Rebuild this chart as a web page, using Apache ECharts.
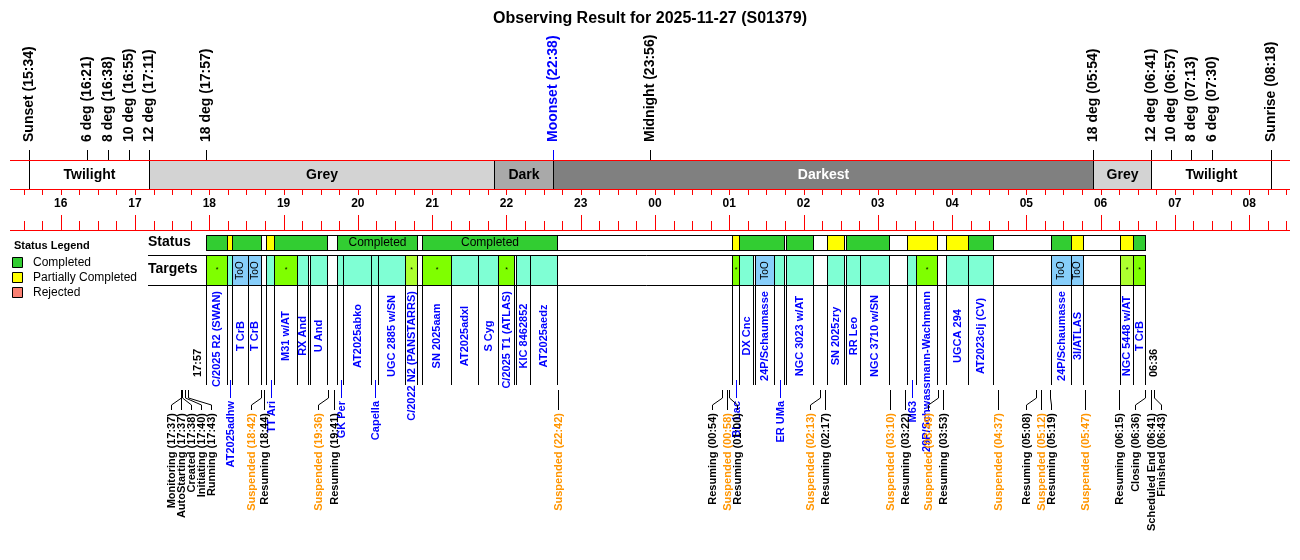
<!DOCTYPE html>
<html><head><meta charset="utf-8">
<script src="https://cdn.jsdelivr.net/npm/echarts@6/dist/echarts.min.js"></script>
<style>html,body{margin:0;padding:0;background:#fff}#c{width:1300px;height:560px}</style>
</head><body><div id="c"></div>
<script>
const FONT = '"Liberation Sans", Arial, Helvetica, sans-serif';

// ---------------- data ----------------
const title = 'Observing Result for 2025-11-27 (S01379)';
const axisStart = '15:19', axisEnd = '08:33';
const tickLabels = ['16','17','18','19','20','21','22','23','00','01','02','03','04','05','06','07','08'];

const nightNames = ['Sunset','6 deg','8 deg','10 deg','12 deg','18 deg','Moonset','Midnight','18 deg','12 deg','10 deg','8 deg','6 deg','Sunrise'];
const nightTimes = ['15:34','16:21','16:38','16:55','17:11','17:57','22:38','23:56','05:54','06:41','06:57','07:13','07:30','08:18'];

const bandNames  = ['Twilight','Grey','Dark','Darkest','Grey','Twilight'];
const bandStarts = ['15:34','17:11','21:50','22:38','05:54','06:41'];
const bandEnds   = ['17:11','21:50','22:38','05:54','06:41','08:18'];

const runStart = '17:57', runEnd = '06:36';

const statusStarts = ['17:57','18:14','18:18','18:46','18:52','19:43','20:52','01:02','01:08','01:46','02:19','02:34','03:24','03:55','04:13','05:20','05:36','06:16','06:26'];
const statusEnds   = ['18:14','18:18','18:42','18:52','19:35','20:48','22:41','01:08','01:44','02:08','02:33','03:09','03:48','04:13','04:33','05:36','05:46','06:26','06:36'];
const statusValues = ['Completed','Partially Completed','Completed','Partially Completed','Completed','Completed','Completed','Partially Completed','Completed','Completed','Partially Completed','Completed','Partially Completed','Partially Completed','Completed','Completed','Partially Completed','Partially Completed','Completed'];

const targetNames  = ['C/2025 R2 (SWAN)','AT2025adhw','T CrB','T CrB','TT Ari','M31 w/AT','RX And','U And','GK Per','AT2025abko','Capella','UGC 2885 w/SN','C/2022 N2 (PANSTARRS)','SN 2025aam','AT2025adxl','S Cyg','C/2025 T1 (ATLAS)','KIC 8462852','AT2025aedz','BL Lac','DX Cnc','24P/Schaumasse','ER UMa','NGC 3023 w/AT','SN 2025zry','RR Leo','NGC 3710 w/SN','M63','29P/Schwassmann-Wachmann','UGCA 294','AT2023clj (CV)','24P/Schaumasse','3I/ATLAS','NGC 5448 w/AT','T CrB'];
const targetStarts = ['17:57','18:14','18:18','18:31','18:46','18:52','19:11','19:21','19:43','19:48','20:11','20:16','20:38','20:52','21:15','21:37','21:53','22:08','22:19','01:02','01:08','01:21','01:36','01:46','02:19','02:34','02:46','03:24','03:31','03:55','04:13','05:20','05:36','06:16','06:26'];
const targetEnds   = ['18:14','18:18','18:31','18:42','18:52','19:11','19:20','19:35','19:48','20:11','20:16','20:38','20:48','21:15','21:37','21:53','22:06','22:19','22:41','01:08','01:19','01:36','01:44','02:08','02:33','02:46','03:09','03:31','03:48','04:13','04:33','05:36','05:46','06:26','06:36'];
// S = priority (lime, *), Y = priority (green-yellow, *), N = normal, T = ToO
const targetTypes  = ['S','N','T','T','N','S','N','N','N','N','N','N','Y','S','N','N','S','N','N','S','N','T','N','N','N','N','N','N','S','N','N','T','T','Y','S'];

const eventNames = ['Monitoring','AutoStarting','Created','Initiating','Running','Suspended','Resuming','Suspended','Resuming','Suspended','Resuming','Suspended','Resuming','Suspended','Resuming','Suspended','Resuming','Suspended','Resuming','Suspended','Resuming','Suspended','Resuming','Suspended','Resuming','Closing','Scheduled End','Finished'];
const eventTimes = ['17:37','17:37','17:38','17:40','17:43','18:42','18:44','19:36','19:41','22:42','00:54','00:58','01:00','02:13','02:17','03:10','03:22','03:49','03:53','04:37','05:08','05:12','05:19','05:47','06:15','06:36','06:41','06:43'];

const legendNames = ['Completed','Partially Completed','Rejected'];

// ---------------- styles / layout ----------------
const STATUS_COLORS = {'Completed':'#32cd32','Partially Completed':'#ffff00','Rejected':'#fa8072'};
const TARGET_COLORS = {S:'#7fff00', Y:'#adff2f', N:'#7fffd4', T:'#87cefa'};
const BAND_COLORS = {Twilight:'#ffffff', Grey:'#d3d3d3', Dark:'#a9a9a9', Darkest:'#808080'};
const ORANGE = '#ff9500', BLUE = '#0000ff', RED = '#ff0000';
const R = {labelBase:142, nightTickTop:150, bandTop:160.5, bandBot:189.5, tickDown:195, hourLabel:204,
  axis2:230.5, axis2Major:215, axis2Minor:221, statusTop:235.5, statusBot:250.5, tgtTop:255.5, tgtBot:285.5,
  tgtLabelTop:291, tgtLabelMid:336, boundBot:385, runLabelBase:377, blueTop:380, blueBot:398, blueText:401,
  evTop:390, evBend1:398, evBend2:405, evBot:410, evText:413, rowLeft:148};

function toH(s){ const p = s.split(':').map(Number); let v = p[0] + p[1]/60; if (v < 12) v += 24; return v; }
function px(v){ return Math.round(v) + 0.5; }
const mctx = document.createElement('canvas').getContext('2d');
function textW(t, weight, size){ mctx.font = weight + ' ' + size + 'px ' + FONT; return mctx.measureText(t).width; }
function txt(x, y, text, o){
  return {type:'text', x:x, y:y, rotation:o.rot ? Math.PI/2 : 0, silent:true,
    style:{text:text, fill:o.fill || '#000', fontSize:o.size || 11, fontWeight:o.weight || 'bold',
      fontFamily:FONT, align:o.align || 'center', verticalAlign:o.va || 'middle'}};
}
function line(x1,y1,x2,y2,stroke){ return {type:'line', silent:true, shape:{x1:x1,y1:y1,x2:x2,y2:y2}, style:{stroke:stroke||'#000', lineWidth:1}}; }
function X(api, t){ return api.coord([t, 0])[0]; }

const chart = echarts.init(document.getElementById('c'));

const series = [];

// night bands
series.push({type:'custom', z:1, data: bandNames.map((n,i)=>[toH(bandStarts[i]), toH(bandEnds[i])]),
  renderItem(params, api){
    const n = bandNames[params.dataIndex];
    const a = px(X(api, api.value(0))), b = px(X(api, api.value(1)));
    return {type:'group', children:[
      {type:'rect', shape:{x:a, y:R.bandTop, width:b-a, height:R.bandBot-R.bandTop}, style:{fill:BAND_COLORS[n], stroke:'#000', lineWidth:1}},
      txt((a+b)/2, 175, n, {size:14, fill: n==='Darkest' ? '#fff' : '#000'})
    ]};
  }});

// time axis (red lines, ticks, hour labels)
series.push({type:'custom', z:3, data:[[toH(axisStart), toH(axisEnd)]],
  renderItem(params, api){
    const t0 = api.value(0), t1 = api.value(1);
    const a = X(api, t0), b = X(api, t1);
    const ch = [line(a, R.bandTop, b, R.bandTop, RED), line(a, R.bandBot, b, R.bandBot, RED), line(a, R.axis2, b, R.axis2, RED)];
    for (let q = Math.ceil(t0*4); q <= Math.floor(t1*4); q++){
      const t = q/4, x = px(X(api, t)), major = (q % 4 === 0);
      ch.push(line(x, R.bandBot, x, R.tickDown, RED));
      ch.push(line(x, R.axis2, x, major ? R.axis2Major : R.axis2Minor, RED));
    }
    tickLabels.forEach((lab, i)=>{
      ch.push(txt(X(api, 16 + i), R.hourLabel, lab, {size:12}));
    });
    return {type:'group', children:ch};
  }});

// twilight / moon / midnight markers
series.push({type:'custom', z:2, data: nightTimes.map(t=>[toH(t)]),
  renderItem(params, api){
    const i = params.dataIndex, x = px(X(api, api.value(0)));
    const col = nightNames[i] === 'Moonset' ? BLUE : '#000';
    return {type:'group', children:[
      line(x, R.nightTickTop, x, R.bandTop, col),
      txt(x, R.labelBase, nightNames[i] + ' (' + nightTimes[i] + ')', {size:14, rot:true, align:'left', fill:col})
    ]};
  }});

// status row
series.push({type:'custom', z:3, data: statusStarts.map((s,i)=>[toH(s), toH(statusEnds[i])]),
  renderItem(params, api){
    const i = params.dataIndex, v = statusValues[i];
    const a = px(X(api, api.value(0))), b = px(X(api, api.value(1)));
    const ch = [{type:'rect', shape:{x:a, y:R.statusTop, width:b-a, height:R.statusBot-R.statusTop}, style:{fill:STATUS_COLORS[v], stroke:'#000', lineWidth:1}}];
    if (v === 'Completed' && (b - a) > textW('Completed','normal',12) + 10)
      ch.push(txt((a+b)/2, (R.statusTop+R.statusBot)/2, 'Completed', {size:12, weight:'normal'}));
    return {type:'group', children:ch};
  }});

// targets row
series.push({type:'custom', z:3, data: targetStarts.map((s,i)=>[toH(s), toH(targetEnds[i])]),
  renderItem(params, api){
    const i = params.dataIndex, ty = targetTypes[i], name = targetNames[i];
    const a = px(X(api, api.value(0))), b = px(X(api, api.value(1))), c = (a+b)/2;
    const mid = (R.tgtTop + R.tgtBot)/2;
    const ch = [
      {type:'rect', shape:{x:a, y:R.tgtTop, width:b-a, height:R.tgtBot-R.tgtTop}, style:{fill:TARGET_COLORS[ty], stroke:'#000', lineWidth:1}},
      line(a, R.tgtBot, a, R.boundBot), line(b, R.tgtBot, b, R.boundBot)
    ];
    if (ty === 'T') ch.push(txt(c, mid, 'ToO', {size:10, weight:'normal', rot:true}));
    if (ty === 'S' || ty === 'Y') ch.push(txt(c, mid, '*', {size:7, weight:'normal'}));
    if (b - a >= 10.5){
      const w = textW(name, 'bold', 11);
      if (w/2 > R.tgtLabelMid - R.tgtLabelTop) ch.push(txt(c, R.tgtLabelTop, name, {rot:true, align:'right', fill:BLUE}));
      else ch.push(txt(c, R.tgtLabelMid, name, {rot:true, align:'center', fill:BLUE}));
    } else {
      const cx = px(c);
      ch.push(line(cx, R.blueTop, cx, R.blueBot, BLUE));
      ch.push(txt(cx, R.blueText, name, {rot:true, align:'right', fill:BLUE}));
    }
    return {type:'group', children:ch};
  }});

// frame of the rows + run start / end labels
series.push({type:'custom', z:4, data:[[toH(runStart), toH(runEnd)]],
  renderItem(params, api){
    const a = px(X(api, api.value(0))), b = px(X(api, api.value(1)));
    return {type:'group', children:[
      {type:'rect', shape:{x:a, y:R.statusTop, width:b-a, height:R.statusBot-R.statusTop}, style:{fill:null, stroke:'#000', lineWidth:1}},
      line(R.rowLeft, R.tgtTop, b, R.tgtTop), line(R.rowLeft, R.tgtBot, b, R.tgtBot),
      line(a, R.tgtTop, a, R.tgtBot), line(b, R.tgtTop, b, R.tgtBot),
      txt(a - 8.5, R.runLabelBase, runStart, {rot:true, align:'left'}),
      txt(b + 8.5, R.runLabelBase, runEnd, {rot:true, align:'left'})
    ]};
  }});

// observation events with spread labels:
// events closer than G form a cluster; the 2nd label of a cluster stays,
// the 1st is pushed one slot left, later ones are pushed right as needed.
let evLayout = null;
function getEvLayout(api){
  if (evLayout) return evLayout;
  const xs = eventTimes.map(t => X(api, toH(t)));
  const order = xs.map((x,i)=>i).sort((p,q)=> xs[p]-xs[q] || p-q);
  const G = 10;
  const clusters = [];
  order.forEach(i => {
    const last = clusters[clusters.length-1];
    if (last && xs[i] - xs[last[last.length-1]] < G) last.push(i); else clusters.push([i]);
  });
  const lx = new Array(xs.length);
  clusters.forEach(C => {
    if (C.length === 1){ lx[C[0]] = xs[C[0]]; return; }
    lx[C[1]] = xs[C[1]];
    lx[C[0]] = Math.min(xs[C[0]] - G, lx[C[1]] - G);
    for (let k = 2; k < C.length; k++) lx[C[k]] = Math.max(xs[C[k]], lx[C[k-1]] + G);
  });
  evLayout = {xs:xs, lx:lx};
  return evLayout;
}
series.push({type:'custom', z:3, data: eventTimes.map(t=>[toH(t)]),
  renderItem(params, api){
    const L = getEvLayout(api), i = params.dataIndex;
    const x = px(L.xs[i]), lx = px(L.lx[i]);
    const name = eventNames[i];
    return {type:'group', children:[
      {type:'polyline', silent:true, shape:{points:[[x,R.evTop],[x,R.evBend1],[lx,R.evBend2],[lx,R.evBot]]}, style:{stroke:'#000', fill:null, lineWidth:1}},
      txt(lx, R.evText, name + ' (' + eventTimes[i] + ')', {rot:true, align:'right', fill: name === 'Suspended' ? ORANGE : '#000'})
    ]};
  }});

series.forEach(s => { s.coordinateSystem = 'cartesian2d'; s.animation = false; s.silent = true; });

const legendGraphic = [{type:'text', x:14, y:246, style:{text:'Status Legend', fontSize:11, fontWeight:'bold', fontFamily:FONT, fill:'#000', verticalAlign:'middle'}}];
legendNames.forEach((n, i) => {
  legendGraphic.push({type:'rect', shape:{x:12.5, y:257.5 + i*15, width:10, height:10}, style:{fill:STATUS_COLORS[n], stroke:'#000', lineWidth:1}});
  legendGraphic.push({type:'text', x:33, y:262.5 + i*15, style:{text:n, fontSize:12, fontFamily:FONT, fill:'#000', verticalAlign:'middle'}});
});
legendGraphic.push({type:'text', x:148, y:242, style:{text:'Status', fontSize:14, fontWeight:'bold', fontFamily:FONT, fill:'#000', verticalAlign:'middle'}});
legendGraphic.push({type:'text', x:148, y:269, style:{text:'Targets', fontSize:14, fontWeight:'bold', fontFamily:FONT, fill:'#000', verticalAlign:'middle'}});

chart.setOption({
  animation:false,
  backgroundColor:'#ffffff',
  title:{text:title, left:'center', top:6, textStyle:{fontSize:16, fontWeight:'bold', color:'#000', fontFamily:FONT}},
  grid:{left:10, right:10, top:0, bottom:0},
  xAxis:{type:'value', min:toH(axisStart), max:toH(axisEnd), show:false},
  yAxis:{type:'value', min:0, max:560, inverse:true, show:false},
  graphic: legendGraphic,
  series: series
});
</script>
</body></html>
